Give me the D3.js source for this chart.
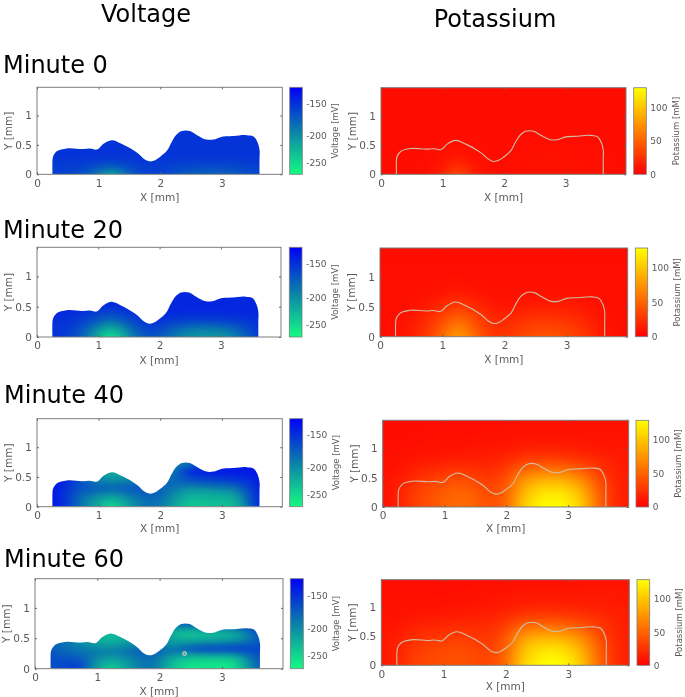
<!DOCTYPE html>
<html><head><meta charset="utf-8">
<script src="https://cdn.jsdelivr.net/npm/d3@7"></script>
<style>
html,body{margin:0;padding:0;background:#fff;overflow:hidden}
svg{display:block;font-family:"DejaVu Sans",sans-serif}
.soft{filter:blur(0.4px)}
</style></head><body>
<script>
// ---------- data ----------
const minutes = [0, 20, 40, 60];
const xTicks = [0, 1, 2, 3];
const yTicks = [0, 0.5, 1];
const voltageTicks = [-150, -200, -250];
const potassiumTicks = [0, 50, 100];

// tissue outline [x mm, y mm]
const outlineX = [0.25,0.25,0.25,0.26,0.32,0.48,0.75,0.86,0.97,1.08,1.21,1.37,1.62,1.78,1.83,1.89,2.0,2.1,2.19,2.27,2.35,2.48,2.59,2.75,2.86,3.0,3.19,3.4,3.52,3.58,3.61,3.61,3.61,3.61];
const outlineY = [0,0.08,0.2,0.30,0.39,0.44,0.43,0.437,0.42,0.52,0.58,0.52,0.37,0.235,0.22,0.23,0.30,0.39,0.56,0.68,0.735,0.735,0.67,0.59,0.59,0.64,0.65,0.665,0.64,0.54,0.42,0.25,0.1,0];

// voltage grids: columns run along voltageX, rows along voltageY
const voltageX = [0.2,0.45,0.7,0.95,1.2,1.45,1.7,1.95,2.2,2.45,2.7,2.95,3.2,3.45,3.7];
const voltageY = [0,0.1,0.2,0.3,0.4,0.5,0.6,0.7,0.8];
const voltageMinute0 = [
 [-158,-160,-165,-182,-222,-180,-160,-158,-165,-172,-175,-175,-172,-165,-160],
 [-157,-158,-160,-170,-185,-168,-158,-157,-162,-166,-168,-168,-166,-162,-158],
 [-155,-156,-156,-158,-162,-158,-155,-155,-156,-158,-158,-158,-158,-156,-155],
 [-153,-153,-153,-153,-154,-153,-153,-153,-153,-154,-154,-154,-154,-153,-153],
 [-152,-152,-152,-152,-152,-152,-152,-152,-152,-152,-152,-152,-152,-152,-152],
 [-152,-152,-152,-152,-152,-152,-152,-152,-152,-152,-152,-152,-152,-152,-152],
 [-152,-152,-152,-152,-152,-152,-152,-152,-152,-152,-152,-152,-152,-152,-152],
 [-152,-152,-152,-152,-152,-152,-152,-152,-152,-152,-152,-152,-152,-152,-152],
 [-152,-152,-152,-152,-152,-152,-152,-152,-152,-152,-152,-152,-152,-152,-152]];
const voltageMinute20 = [
 [-150,-155,-170,-208,-270,-208,-170,-165,-185,-200,-205,-205,-195,-170,-150],
 [-150,-155,-168,-195,-242,-195,-165,-162,-178,-192,-195,-195,-185,-165,-150],
 [-150,-153,-160,-180,-205,-180,-158,-155,-165,-172,-175,-172,-168,-158,-150],
 [-148,-150,-155,-165,-178,-165,-152,-150,-153,-155,-155,-155,-153,-150,-148],
 [-146,-147,-150,-155,-165,-155,-148,-146,-147,-148,-148,-148,-147,-146,-146],
 [-146,-146,-146,-147,-150,-147,-146,-146,-146,-146,-146,-146,-146,-146,-146],
 [-146,-146,-146,-146,-146,-146,-146,-146,-146,-146,-146,-146,-146,-146,-146],
 [-146,-146,-146,-146,-146,-146,-146,-146,-146,-146,-146,-146,-146,-146,-146],
 [-146,-146,-146,-146,-146,-146,-146,-146,-146,-146,-146,-146,-146,-146,-146]];
const voltageMinute40 = [
 [-138,-150,-185,-212,-262,-215,-185,-180,-210,-242,-238,-232,-238,-170,-138],
 [-138,-150,-185,-205,-242,-205,-185,-180,-205,-235,-232,-228,-230,-165,-138],
 [-138,-150,-180,-190,-205,-190,-175,-175,-195,-222,-222,-218,-215,-162,-138],
 [-138,-148,-170,-172,-178,-172,-170,-175,-185,-205,-200,-195,-190,-158,-138],
 [-138,-145,-168,-185,-190,-185,-180,-180,-180,-176,-170,-168,-165,-152,-138],
 [-138,-140,-165,-195,-215,-205,-190,-180,-185,-160,-155,-150,-148,-145,-138],
 [-138,-138,-155,-190,-228,-210,-190,-180,-195,-142,-140,-140,-140,-140,-138],
 [-138,-138,-155,-190,-228,-210,-190,-180,-195,-185,-155,-145,-140,-140,-138],
 [-138,-138,-155,-190,-228,-210,-190,-180,-195,-190,-160,-150,-140,-140,-138]];
const voltageMinute60 = [
 [-165,-165,-150,-205,-250,-215,-185,-185,-238,-258,-258,-262,-264,-195,-165],
 [-165,-165,-158,-195,-235,-210,-185,-185,-232,-252,-254,-257,-257,-190,-165],
 [-165,-172,-175,-190,-205,-195,-180,-180,-212,-228,-230,-228,-225,-180,-165],
 [-170,-180,-185,-190,-190,-185,-175,-178,-185,-170,-162,-160,-160,-160,-160],
 [-175,-185,-195,-205,-215,-205,-190,-185,-205,-190,-182,-180,-175,-172,-165],
 [-170,-180,-195,-220,-235,-220,-200,-190,-218,-230,-228,-224,-216,-190,-165],
 [-165,-170,-190,-220,-230,-220,-200,-190,-228,-238,-228,-228,-218,-180,-160],
 [-165,-170,-190,-220,-230,-220,-200,-190,-185,-185,-175,-170,-165,-160,-160],
 [-165,-170,-190,-220,-230,-220,-200,-190,-170,-170,-165,-165,-160,-160,-160]];

// potassium grids
const potassiumX = [0,0.25,0.5,0.75,1,1.25,1.5,1.75,2,2.25,2.5,2.75,3,3.25,3.5,3.75,4];
const potassiumY = [0,0.25,0.5,0.75,1,1.25,1.5];
const potassiumMinute0 = [
 [6,6,6,7,14,42,14,7,7,8,9,9,9,9,8,7,6],
 [6,6,6,7,8,14,8,7,7,7,8,8,8,7,7,7,6],
 [6,6,6,6,7,7,7,6,6,7,7,7,7,7,6,6,6],
 [6,6,6,6,6,6,6,6,6,6,6,6,6,6,6,6,6],
 [6,6,6,6,6,6,6,6,6,6,6,6,6,6,6,6,6],
 [6,6,6,6,6,6,6,6,6,6,6,6,6,6,6,6,6],
 [6,6,6,6,6,6,6,6,6,6,6,6,6,6,6,6,6]];
const potassiumMinute20 = [
 [7,8,14,28,52,85,55,28,26,34,42,42,38,30,16,8,7],
 [7,7,12,22,40,60,42,24,20,26,30,30,28,22,12,8,7],
 [7,7,8,12,20,32,22,13,9,12,14,14,13,11,8,7,7],
 [7,7,7,8,9,12,9,8,7,8,8,8,8,8,7,7,7],
 [7,7,7,7,7,7,7,7,7,7,7,7,7,7,7,7,7],
 [6,6,6,6,6,6,6,6,6,6,6,6,6,6,6,6,6],
 [6,6,6,6,6,6,6,6,6,6,6,6,6,6,6,6,6]];
const potassiumMinute40 = [
 [10,14,32,40,50,58,50,38,50,100,125,130,125,100,50,20,13],
 [10,14,32,40,48,54,46,36,48,90,115,120,115,90,48,20,13],
 [9,12,22,28,34,38,32,26,38,72,82,85,80,65,35,18,13],
 [8,9,12,14,16,18,18,18,22,34,38,38,34,28,22,16,12],
 [7,7,8,8,9,9,10,11,12,14,15,15,14,13,12,11,11],
 [6,6,6,7,7,7,7,8,8,9,9,9,9,9,9,9,9],
 [6,6,6,6,6,6,6,7,7,7,7,7,7,7,8,8,8]];
const potassiumMinute60 = [
 [12,16,32,36,40,42,38,34,52,105,125,132,125,95,50,22,15],
 [12,16,30,34,38,40,36,32,50,95,115,122,112,88,48,22,15],
 [11,14,22,26,28,30,28,26,42,80,88,88,82,68,36,20,14],
 [9,10,13,15,17,18,19,20,26,38,42,42,38,32,26,19,14],
 [8,8,8,9,9,10,11,12,14,16,17,17,17,16,15,14,13],
 [7,7,7,7,7,8,8,9,10,11,11,11,11,11,11,11,11],
 [6,6,6,6,6,6,7,7,7,8,8,8,8,9,9,9,9]];

const voltageGrids = [voltageMinute0, voltageMinute20, voltageMinute40, voltageMinute60];
const potassiumGrids = [potassiumMinute0, potassiumMinute20, potassiumMinute40, potassiumMinute60];
const stimulusPoint = [2.4, 0.25];

// ---------- layout ----------
const W = 685, H = 697;
const leftFrames = [
 {x0:37,x1:282.3,y0:87.3,y1:174.3,cx0:289.7,cx1:302.3,labelY:197,ylx:8},
 {x0:37,x1:281,y0:247.3,y1:337,cx0:289.3,cx1:302,labelY:360,ylx:8},
 {x0:37,x1:282.3,y0:418.7,y1:506.7,cx0:289.7,cx1:302.7,labelY:528,ylx:8},
 {x0:35,x1:283,y0:578.7,y1:668.7,cx0:290.3,cx1:303.3,labelY:691.7,ylx:6}];
const rightFrames = [
 {x0:381,x1:626,y0:87.7,y1:174.3,cx0:633.7,cx1:646.3,labelY:197,ylx:352},
 {x0:380,x1:627.7,y0:248,y1:336.7,cx0:635.3,cx1:647.7,labelY:359,ylx:351},
 {x0:382.7,x1:628.7,y0:420.3,y1:507,cx0:636,cx1:648.7,labelY:528,ylx:354},
 {x0:381.3,x1:629.3,y0:579.7,y1:665.3,cx0:637,cx1:649.7,labelY:686.8,ylx:352}];
const minuteLabels = [{x:3,y:73},{x:3,y:237.7},{x:4,y:402.7},{x:4,y:567}];
const xMax = 3.98, yMax = 1.48;
const grey = "#5a5a5a";

// ---------- colour scales ----------
const voltagePos = d3.scaleLinear().domain([-272,-250,-200,-150,-128]).range([1,0.86,0.56,0.184,0]).clamp(true);
const voltageRamp = d3.scaleLinear().domain([0,0.5,1]).range(["#0000f6","#0a80aa","#14fa82"]);
const voltageColor = v => voltageRamp(voltagePos(v));
const potassiumColor = d3.scaleLinear().domain([0,129]).range(["#ff0000","#ffff00"]).clamp(true);

// ---------- helpers ----------
function fieldImage(grid, gx, gy, frame, color, xs, ys){
  const w = Math.round(frame.x1-frame.x0), h = Math.round(frame.y1-frame.y0);
  const c = document.createElement("canvas"); c.width=w; c.height=h;
  const ctx = c.getContext("2d"), img = ctx.createImageData(w,h);
  const rows = grid.map(r => d3.interpolateBasis(r));
  const tx = d3.scaleLinear().domain(d3.extent(gx)).range([0,1]).clamp(true);
  const ty = d3.scaleLinear().domain(d3.extent(gy)).range([0,1]).clamp(true);
  for(let i=0;i<w;i++){
    const xv = xs.invert(frame.x0+i+0.5);
    const col = d3.interpolateBasis(rows.map(f=>f(tx(xv))));
    for(let j=0;j<h;j++){
      const yv = ys.invert(frame.y0+j+0.5);
      const rgb = d3.rgb(color(col(ty(yv))));
      const k=(j*w+i)*4;
      img.data[k]=rgb.r;img.data[k+1]=rgb.g;img.data[k+2]=rgb.b;img.data[k+3]=255;
    }
  }
  ctx.putImageData(img,0,0);
  return c.toDataURL();
}

const svg = d3.select("body").append("svg").attr("width",W).attr("height",H);
const defs = svg.append("defs");
const soft = svg.append("g").attr("class","soft");
const outlinePts = outlineX.map((x,i)=>[x,outlineY[i]]);

function drawPanel(frame, idx, kind){
  const isV = kind==="v";
  const xs = d3.scaleLinear().domain([0,xMax]).range([frame.x0,frame.x1]);
  const ys = d3.scaleLinear().domain([0,yMax]).range([frame.y1,frame.y0]);
  const g = soft.append("g");
  const line = d3.line().x(d=>xs(d[0])).y(d=>ys(d[1])).curve(d3.curveCatmullRom.alpha(1));
  const grid = isV ? voltageGrids[idx] : potassiumGrids[idx];
  const href = fieldImage(grid, isV?voltageX:potassiumX, isV?voltageY:potassiumY, frame, isV?voltageColor:potassiumColor, xs, ys);
  const img = g.append("image").attr("x",frame.x0).attr("y",frame.y0)
    .attr("width",frame.x1-frame.x0).attr("height",frame.y1-frame.y0)
    .attr("preserveAspectRatio","none").attr("href",href);
  if(isV){
    const id="clip"+idx;
    defs.append("clipPath").attr("id",id).append("path").attr("d",line(outlinePts)+"Z");
    img.attr("clip-path",`url(#${id})`);
    if(idx===3){
      g.append("circle").attr("cx",xs(stimulusPoint[0])).attr("cy",ys(stimulusPoint[1])).attr("r",2)
        .attr("fill","#5fae9e").attr("stroke","#c9c9c9").attr("stroke-width",1);
    }
  } else {
    g.append("path").attr("d",line(outlinePts)).attr("fill","none").attr("stroke","#cdbfa6").attr("stroke-width",1.1);
  }
  // frame and axes
  g.append("rect").attr("x",frame.x0).attr("y",frame.y0).attr("width",frame.x1-frame.x0).attr("height",frame.y1-frame.y0)
    .attr("fill","none").attr("stroke","#7d7d7d").attr("stroke-width",1);
  const style = sel => {
    sel.select(".domain").remove();
    sel.selectAll("line").attr("stroke","#666");
    sel.selectAll("text").attr("fill",grey).attr("font-size",10.5).attr("font-family","DejaVu Sans");
  };
  g.append("g").attr("transform",`translate(0,${frame.y1})`)
    .call(d3.axisBottom(xs).tickValues(xTicks).tickFormat(d3.format("d")).tickSizeInner(-2).tickSizeOuter(0).tickPadding(5)).call(style);
  g.append("g").attr("transform",`translate(0,${frame.y0})`)
    .call(d3.axisTop(xs).tickValues(xTicks).tickFormat("").tickSizeInner(-2).tickSizeOuter(0)).call(style);
  g.append("g").attr("transform",`translate(${frame.x0},0)`)
    .call(d3.axisLeft(ys).tickValues(yTicks).tickFormat(d=>String(d)).tickSizeInner(-2).tickSizeOuter(0).tickPadding(5)).call(style);
  g.append("g").attr("transform",`translate(${frame.x1},0)`)
    .call(d3.axisRight(ys).tickValues(yTicks).tickFormat("").tickSizeInner(-2).tickSizeOuter(0)).call(style);
  g.append("text").attr("x",(frame.x0+frame.x1)/2).attr("y",frame.labelY).attr("dy","0.35em").attr("text-anchor","middle")
    .attr("fill",grey).attr("font-size",10.5).text("X [mm]");
  const my=(frame.y0+frame.y1)/2;
  g.append("text").attr("transform",`translate(${frame.ylx},${my}) rotate(-90)`).attr("dy","0.35em").attr("text-anchor","middle")
    .attr("fill",grey).attr("font-size",10.5).text("Y [mm]");
  // colour bar
  const gid=`cb-${kind}-${idx}`;
  const lg=defs.append("linearGradient").attr("id",gid).attr("x1",0).attr("x2",0).attr("y1",0).attr("y2",1);
  d3.range(0,1.001,0.05).forEach(t=>lg.append("stop").attr("offset",t).attr("stop-color",isV?voltageRamp(t):potassiumColor(129*(1-t))));
  g.append("rect").attr("x",frame.cx0).attr("y",frame.y0).attr("width",frame.cx1-frame.cx0).attr("height",frame.y1-frame.y0)
    .attr("fill",`url(#${gid})`).attr("stroke","#7d7d7d").attr("stroke-width",0.8);
  const cbScale = isV
    ? d3.scaleLinear().domain(voltagePos.domain()).range(voltagePos.range().map(t=>frame.y0+t*(frame.y1-frame.y0)))
    : d3.scaleLinear().domain([0,129]).range([frame.y1,frame.y0]);
  g.append("g").attr("transform",`translate(${frame.cx1},0)`)
    .call(d3.axisRight(cbScale).tickValues(isV?voltageTicks:potassiumTicks).tickFormat(d=>String(d)).tickSize(0).tickPadding(4))
    .call(sel=>{sel.select(".domain").remove();
      sel.selectAll("text").attr("fill",grey).attr("font-size",9).attr("font-family","DejaVu Sans");});
  g.append("text").attr("transform",`translate(${frame.cx1+(isV?33:29.5)},${my}) rotate(-90)`).attr("dy","0.35em").attr("text-anchor","middle")
    .attr("fill",grey).attr("font-size",8.5).text(isV?"Voltage [mV]":"Potassium [mM]");
}

minutes.forEach((m,i)=>{
  drawPanel(leftFrames[i],i,"v");
  drawPanel(rightFrames[i],i,"k");
  svg.append("text").attr("x",minuteLabels[i].x).attr("y",minuteLabels[i].y).attr("font-size",24).attr("fill","#000").text("Minute "+m);
});
svg.append("text").attr("x",146).attr("y",22).attr("text-anchor","middle").attr("font-size",24).attr("fill","#000").text("Voltage");
svg.append("text").attr("x",495).attr("y",27).attr("text-anchor","middle").attr("font-size",24).attr("fill","#000").text("Potassium");
</script>
</body></html>
